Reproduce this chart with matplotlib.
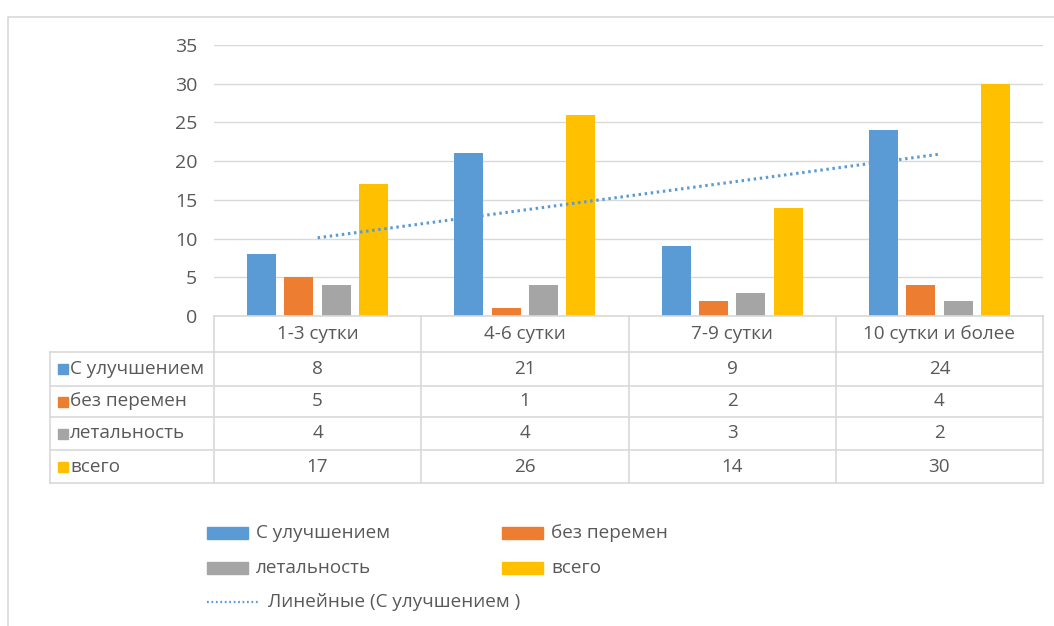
import numpy as np
import matplotlib
matplotlib.use("Agg")
import matplotlib.pyplot as plt
from matplotlib.patches import Rectangle

plt.rcParams["font.family"] = ["Open Sans", "DejaVu Sans"]

# data
categories = ["1-3 сутки", "4-6 сутки", "7-9 сутки", "10 сутки и более"]
series_names = ["С улучшением", "без перемен", "летальность", "всего"]
improved = [8, 21, 9, 24]
unchanged = [5, 1, 2, 4]
lethal = [4, 4, 3, 2]
total = [17, 26, 14, 30]
yticks = [0, 5, 10, 15, 20, 25, 30, 35]
trend_label = "Линейные (С улучшением )"

colors = ["#5B9BD5", "#ED7D31", "#A5A5A5", "#FFC000"]
text_c = "#595959"
grid_c = "#D9D9D9"

W, H = 1054, 626
fig = plt.figure(figsize=(W / 100, H / 100), dpi=100)

# plot area in pixel terms
px_left, px_right, px_top, px_bot = 214, 1043, 45, 316
ax = fig.add_axes([px_left / W, 1 - px_bot / H,
                   (px_right - px_left) / W, (px_bot - px_top) / H])

x = np.arange(1, len(categories) + 1)
all_series = [improved, unchanged, lethal, total]
bw, step = 0.14, 0.18
for i, vals in enumerate(all_series):
    ax.bar(x + (i - 1.5) * step, vals, width=bw, color=colors[i], zorder=3)

# linear trendline for the first series
k, b = np.polyfit(x, improved, 1)
ax.plot(x[[0, -1]], k * x[[0, -1]] + b, color=colors[0], lw=2.2,
        linestyle=(0, (0.8, 1.2)), zorder=4)

ax.set_xlim(0.5, len(categories) + 0.5)
ax.set_ylim(0, 35)
ax.set_yticks(yticks)
ax.set_xticks([])
ax.yaxis.grid(True, color=grid_c, lw=1)
ax.set_axisbelow(True)
for s in ax.spines.values():
    s.set_visible(False)
ax.tick_params(axis="y", length=0, pad=12, labelsize=14, labelcolor=text_c)

# overlay in pixel coords for the data table, legend and frame
ov = fig.add_axes([0, 0, 1, 1])
ov.set_xlim(0, W)
ov.set_ylim(H, 0)
ov.axis("off")

# outer chart frame (cut by the image edge)
ov.plot([8, 8, W], [H, 17, 17], color="#D9D9D9", lw=1.2)

# data table
col_x = np.linspace(px_left, px_right, len(categories) + 1)
row_y = [316, 352, 386, 417, 450, 483]
lab_left = 50
lc = dict(color=grid_c, lw=1.2)
ov.plot([px_left, px_right], [row_y[0], row_y[0]], **lc)
for yy in row_y[1:]:
    ov.plot([lab_left, px_right], [yy, yy], **lc)
for xx in col_x:
    ov.plot([xx, xx], [row_y[0], row_y[-1]], **lc)
ov.plot([lab_left, lab_left], [row_y[1], row_y[-1]], **lc)

fs = 13.6
for j, cat in enumerate(categories):
    cx = (col_x[j] + col_x[j + 1]) / 2
    ov.text(cx, (row_y[0] + row_y[1]) / 2, cat, ha="center", va="center",
            fontsize=fs, color=text_c)
    for i, vals in enumerate(all_series):
        ov.text(cx, (row_y[i + 1] + row_y[i + 2]) / 2, str(vals[j]),
                ha="center", va="center", fontsize=fs, color=text_c)
for i, name in enumerate(series_names):
    cy = (row_y[i + 1] + row_y[i + 2]) / 2
    ov.add_patch(Rectangle((58, cy - 5), 10, 10, color=colors[i]))
    ov.text(70, cy, name, ha="left", va="center", fontsize=fs, color=text_c)

# legend
leg_items = [(0, 207, 533), (1, 502, 533), (2, 207, 568), (3, 502, 568)]
for i, lx, ly in leg_items:
    ov.add_patch(Rectangle((lx, ly - 6), 41, 12, color=colors[i]))
    ov.text(lx + 49, ly, series_names[i], ha="left", va="center",
            fontsize=fs, color=text_c)
ov.plot([207, 258], [602, 602], color=colors[0], lw=1.6,
        linestyle=(0, (0.8, 1.2)))
ov.text(268, 602, trend_label, ha="left", va="center", fontsize=fs,
        color=text_c)

fig.savefig("out.png", dpi=100)
